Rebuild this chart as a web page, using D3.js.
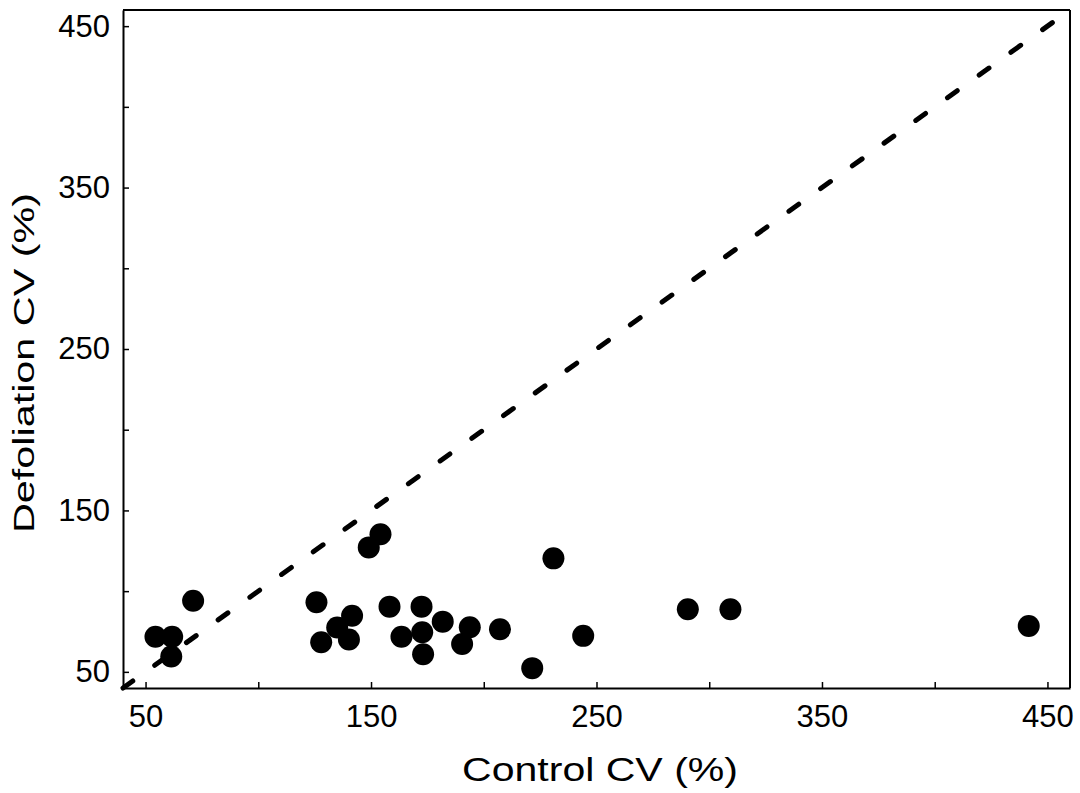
<!DOCTYPE html>
<html>
<head>
<meta charset="utf-8">
<script src="https://cdn.jsdelivr.net/npm/d3@7"></script>
<style>
  body { margin: 0; background: #fff; }
  text { font-family: "Liberation Sans", Arial, sans-serif; fill: #000; }
</style>
</head>
<body>
<div id="chart"></div>
<script>
// Control CV (%) vs Defoliation CV (%)
const controlCV = [54.4, 61.8, 61.4, 71.1, 125.8, 127.9, 135, 141.6, 140.2, 149, 154.2, 158.2, 163.5,
                   172.4, 172.7, 173.1, 181.8, 190.4, 193.8, 207.2, 221.5, 230.9, 244.1, 290.5, 309.4, 441.7];
const defoliationCV = [71.8, 71.8, 59.5, 94.1, 93.1, 68.4, 77.5, 84.8, 70, 127.1, 135.3, 90.4, 71.8,
                       90.4, 74.5, 60.9, 81.1, 67.3, 77.6, 76.4, 52.3, 120.3, 72.3, 88.8, 88.8, 78.4];
const axisDomain = [40, 460];
const tickValues = [50, 100, 150, 200, 250, 300, 350, 400, 450];
const labelledTicks = [50, 150, 250, 350, 450];
const xTitle = 'Control CV (%)';
const yTitle = 'Defoliation CV (%)';

const width = 1080, height = 793;
const margin = { top: 10, right: 10, bottom: 105, left: 123 };

const svg = d3.select('#chart')
    .append('svg')
    .attr('width', width)
    .attr('height', height);

const x = d3.scaleLinear().domain(axisDomain).range([margin.left, width - margin.right]);
const y = d3.scaleLinear().domain(axisDomain).range([height - margin.bottom, margin.top]);

const fmt = d => labelledTicks.includes(d) ? d : '';

// x axis (ticks point inward)
const gx = svg.append('g')
    .attr('transform', `translate(0,${height - margin.bottom})`)
    .call(d3.axisBottom(x).tickValues(tickValues).tickFormat(fmt).tickSize(-6).tickPadding(17).tickSizeOuter(0));

// y axis
const gy = svg.append('g')
    .attr('transform', `translate(${margin.left},0)`)
    .call(d3.axisLeft(y).tickValues(tickValues).tickFormat(fmt).tickSize(-6).tickPadding(13).tickSizeOuter(0));

[gx, gy].forEach(g => {
    g.select('.domain').attr('stroke', '#000').attr('stroke-width', 2);
    g.selectAll('.tick line').attr('stroke', '#000').attr('stroke-width', 1.5);
    g.selectAll('.tick text').attr('font-size', 31).style('font-size', '31px').attr('fill', '#000');
});

// top and right frame
svg.append('line')
    .attr('x1', x(axisDomain[0])).attr('x2', x(axisDomain[1]))
    .attr('y1', y(axisDomain[1])).attr('y2', y(axisDomain[1]))
    .attr('stroke', '#000').attr('stroke-width', 2);
svg.append('line')
    .attr('x1', x(axisDomain[1])).attr('x2', x(axisDomain[1]))
    .attr('y1', y(axisDomain[0])).attr('y2', y(axisDomain[1]))
    .attr('stroke', '#000').attr('stroke-width', 2);

// 1:1 dashed line
svg.append('path')
    .datum(axisDomain)
    .attr('d', d3.line().x(d => x(d)).y(d => y(d)))
    .attr('fill', 'none')
    .attr('stroke', '#000')
    .attr('stroke-width', 5)
    .attr('stroke-linecap', 'round')
    .attr('stroke-dasharray', '12 27');

// points
svg.append('g')
    .selectAll('circle')
    .data(controlCV.map((c, i) => ({ c: c, d: defoliationCV[i] })))
    .join('circle')
    .attr('cx', d => x(d.c))
    .attr('cy', d => y(d.d))
    .attr('r', 11)
    .attr('fill', '#000');

// axis titles
svg.append('text')
    .attr('x', 600)
    .attr('y', 781)
    .attr('text-anchor', 'middle')
    .attr('textLength', 276)
    .attr('lengthAdjust', 'spacingAndGlyphs')
    .style('font-size', '34px')
    .text(xTitle);

svg.append('text')
    .attr('transform', 'translate(34,363) rotate(-90)')
    .attr('text-anchor', 'middle')
    .attr('textLength', 340)
    .attr('lengthAdjust', 'spacingAndGlyphs')
    .style('font-size', '30px')
    .text(yTitle);
</script>
</body>
</html>
